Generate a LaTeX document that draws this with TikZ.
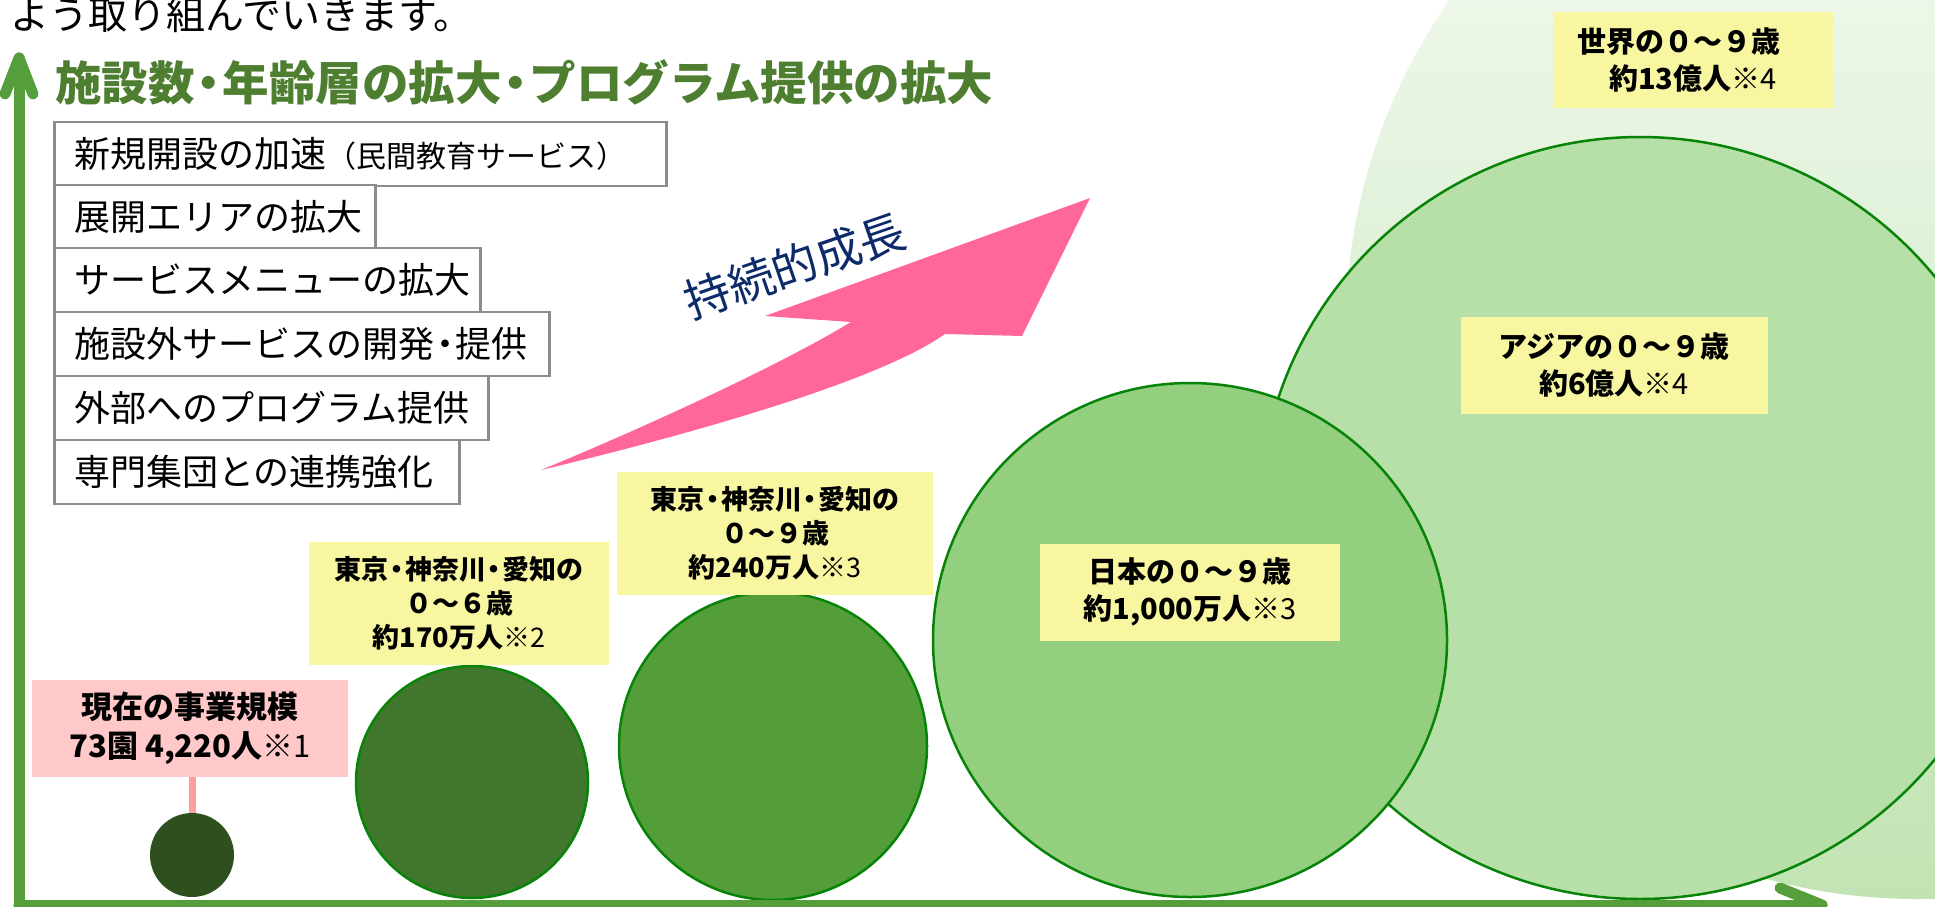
\documentclass[tikz,border=0pt]{standalone}
\usepackage{fontspec}
\setmainfont{Noto Sans CJK JP}
\definecolor{axisgreen}{HTML}{559E3B}
\definecolor{titlegreen}{HTML}{4E7E30}
\definecolor{boxgray}{HTML}{8C8C8C}
\definecolor{arrowpink}{HTML}{FF6699}
\definecolor{navyblue}{HTML}{0D2B6B}
\definecolor{labelyellow}{HTML}{F9F6A2}
\definecolor{labelpink}{HTML}{FFC9C9}
\definecolor{linkpink}{HTML}{FF9E9E}
\definecolor{ringgreen}{HTML}{078407}
\definecolor{cA}{HTML}{2E4F1E}
\definecolor{cB}{HTML}{41772C}
\definecolor{cC}{HTML}{549E3A}
\definecolor{cD}{HTML}{93CF7E}
\definecolor{cE}{HTML}{B6E0A8}
\definecolor{worldtop}{HTML}{FAFDF8}
\definecolor{worldmid}{HTML}{DCEFD4}
\definecolor{worldbot}{HTML}{C2E4B4}
\newcommand\komenote[1]{{\mdseries ※#1}}
\newcommand\boxline[2]{\makebox[#1][l]{#2}}
\newcommand\nkg{\hspace{-0.2em}・\hspace{-0.2em}}
\begin{document}
\begin{tikzpicture}[x=1pt,y=-1pt,
  ring/.style={circle, draw=ringgreen, line width=2.5pt, inner sep=0pt},
  listbox/.style={draw=boxgray, line width=2.6pt, fill=white, anchor=west, inner xsep=20pt, inner ysep=0pt, minimum height=64pt, font=\fontsize{36}{40}\selectfont},
  tag/.style={fill=labelyellow, inner sep=0pt, align=center, font=\bfseries\fontsize{29}{37}\selectfont},
  smalltag/.style={tag, font=\bfseries\fontsize{27}{34}\selectfont},
  axisline/.style={draw=axisgreen, line width=11pt, line cap=round, line join=round},
]
\useasboundingbox (0,0) rectangle (1935,907);
\clip (0,0) rectangle (1935,907);

% world circle (gradient)
\node[circle, inner sep=0pt, minimum size=1142pt, top color=worldtop, bottom color=worldbot, middle color=worldmid] (world) at (1917,328) {};
% other circles
\node[ring, fill=cE, minimum size=762pt] (asia) at (1640,518) {};
\node[ring, fill=cD, minimum size=514pt] (japan) at (1190,640) {};
\node[ring, fill=cC, minimum size=308pt] (tky9) at (773,746) {};
\node[ring, fill=cB, minimum size=232pt] (tky6) at (472,782) {};
\node[circle, fill=cA, inner sep=0pt, minimum size=84pt] (now) at (192,855) {};

% labels
\node[tag, minimum width=280pt, minimum height=95pt] (worldtag) at (1693,60) {世界の０～９歳\hspace*{1em}\\約13億人\komenote{4}};
\node[tag, minimum width=307pt, minimum height=97pt] (asiatag) at (1614,365) {アジアの０～９歳\\約6億人\komenote{4}};
\node[tag, minimum width=300pt, minimum height=97pt] (japantag) at (1190,592) {日本の０～９歳\\約1,000万人\komenote{3}};
\node[smalltag, minimum width=316pt, minimum height=123pt] (tky9tag) at (775,533) {東京\nkg 神奈川\nkg 愛知の\\０～９歳\\約240万人\komenote{3}};
\node[smalltag, minimum width=300pt, minimum height=123pt] (tky6tag) at (459,603) {東京\nkg 神奈川\nkg 愛知の\\０～６歳\\約170万人\komenote{2}};
\node[tag, fill=labelpink, minimum width=316pt, minimum height=97pt, font=\bfseries\fontsize{31}{39}\selectfont] (nowtag) at (190,728) {現在の事業規模\\73園 4,220人\komenote{1}};
\draw[draw=linkpink, line width=7pt] (nowtag.south -| now.north) -- (now.north);

% growth arrow
\fill[arrowpink] (541,470) .. controls (650,425) and (780,365) .. (851,322) -- (765,316) -- (1090,198) -- (1022,336) -- (945,334) .. controls (880,380) and (700,432) .. (541,470) -- cycle;
\node[rotate=19, text=navyblue, font=\fontsize{46}{50}\selectfont] (growth) at (795,266) {持続的成長};

% texts
\node[anchor=west, inner sep=0pt, font=\fontsize{39}{44}\selectfont] (intro) at (10,15) {よう取り組んでいきます。};
\node[anchor=west, inner sep=0pt, text=titlegreen, font=\bfseries\fontsize{46.5}{50}\selectfont] (title) at (55,82) {施設数\nkg 年齢層の拡大\nkg プログラム提供の拡大};

% list boxes
\node[listbox] (b1) at (53,154) {\boxline{572pt}{新規開設の加速{\fontsize{30}{34}\selectfont（民間教育サービス）}}};
\node[listbox] (b2) at (53,217) {\boxline{281pt}{展開エリアの拡大}};
\node[listbox] (b3) at (53,280) {\boxline{386pt}{サービスメニューの拡大}};
\node[listbox] (b4) at (53,344) {\boxline{455pt}{施設外サービスの開発\nkg 提供}};
\node[listbox] (b5) at (53,408) {\boxline{394pt}{外部へのプログラム提供}};
\node[listbox] (b6) at (53,472) {\boxline{365pt}{専門集団との連携強化}};

% axes
\coordinate (ytip) at (19,58);
\coordinate (origin) at (19,905);
\coordinate (xtip) at (1822,905);
\draw[axisline] (origin) -- (ytip);
\draw[axisline] (5,94) -- (ytip) -- (33,94);
\draw[axisline] (origin) -- (xtip);
\draw[axisline] (1780,888) -- (xtip) -- (1780,922);
\end{tikzpicture}
\end{document}
